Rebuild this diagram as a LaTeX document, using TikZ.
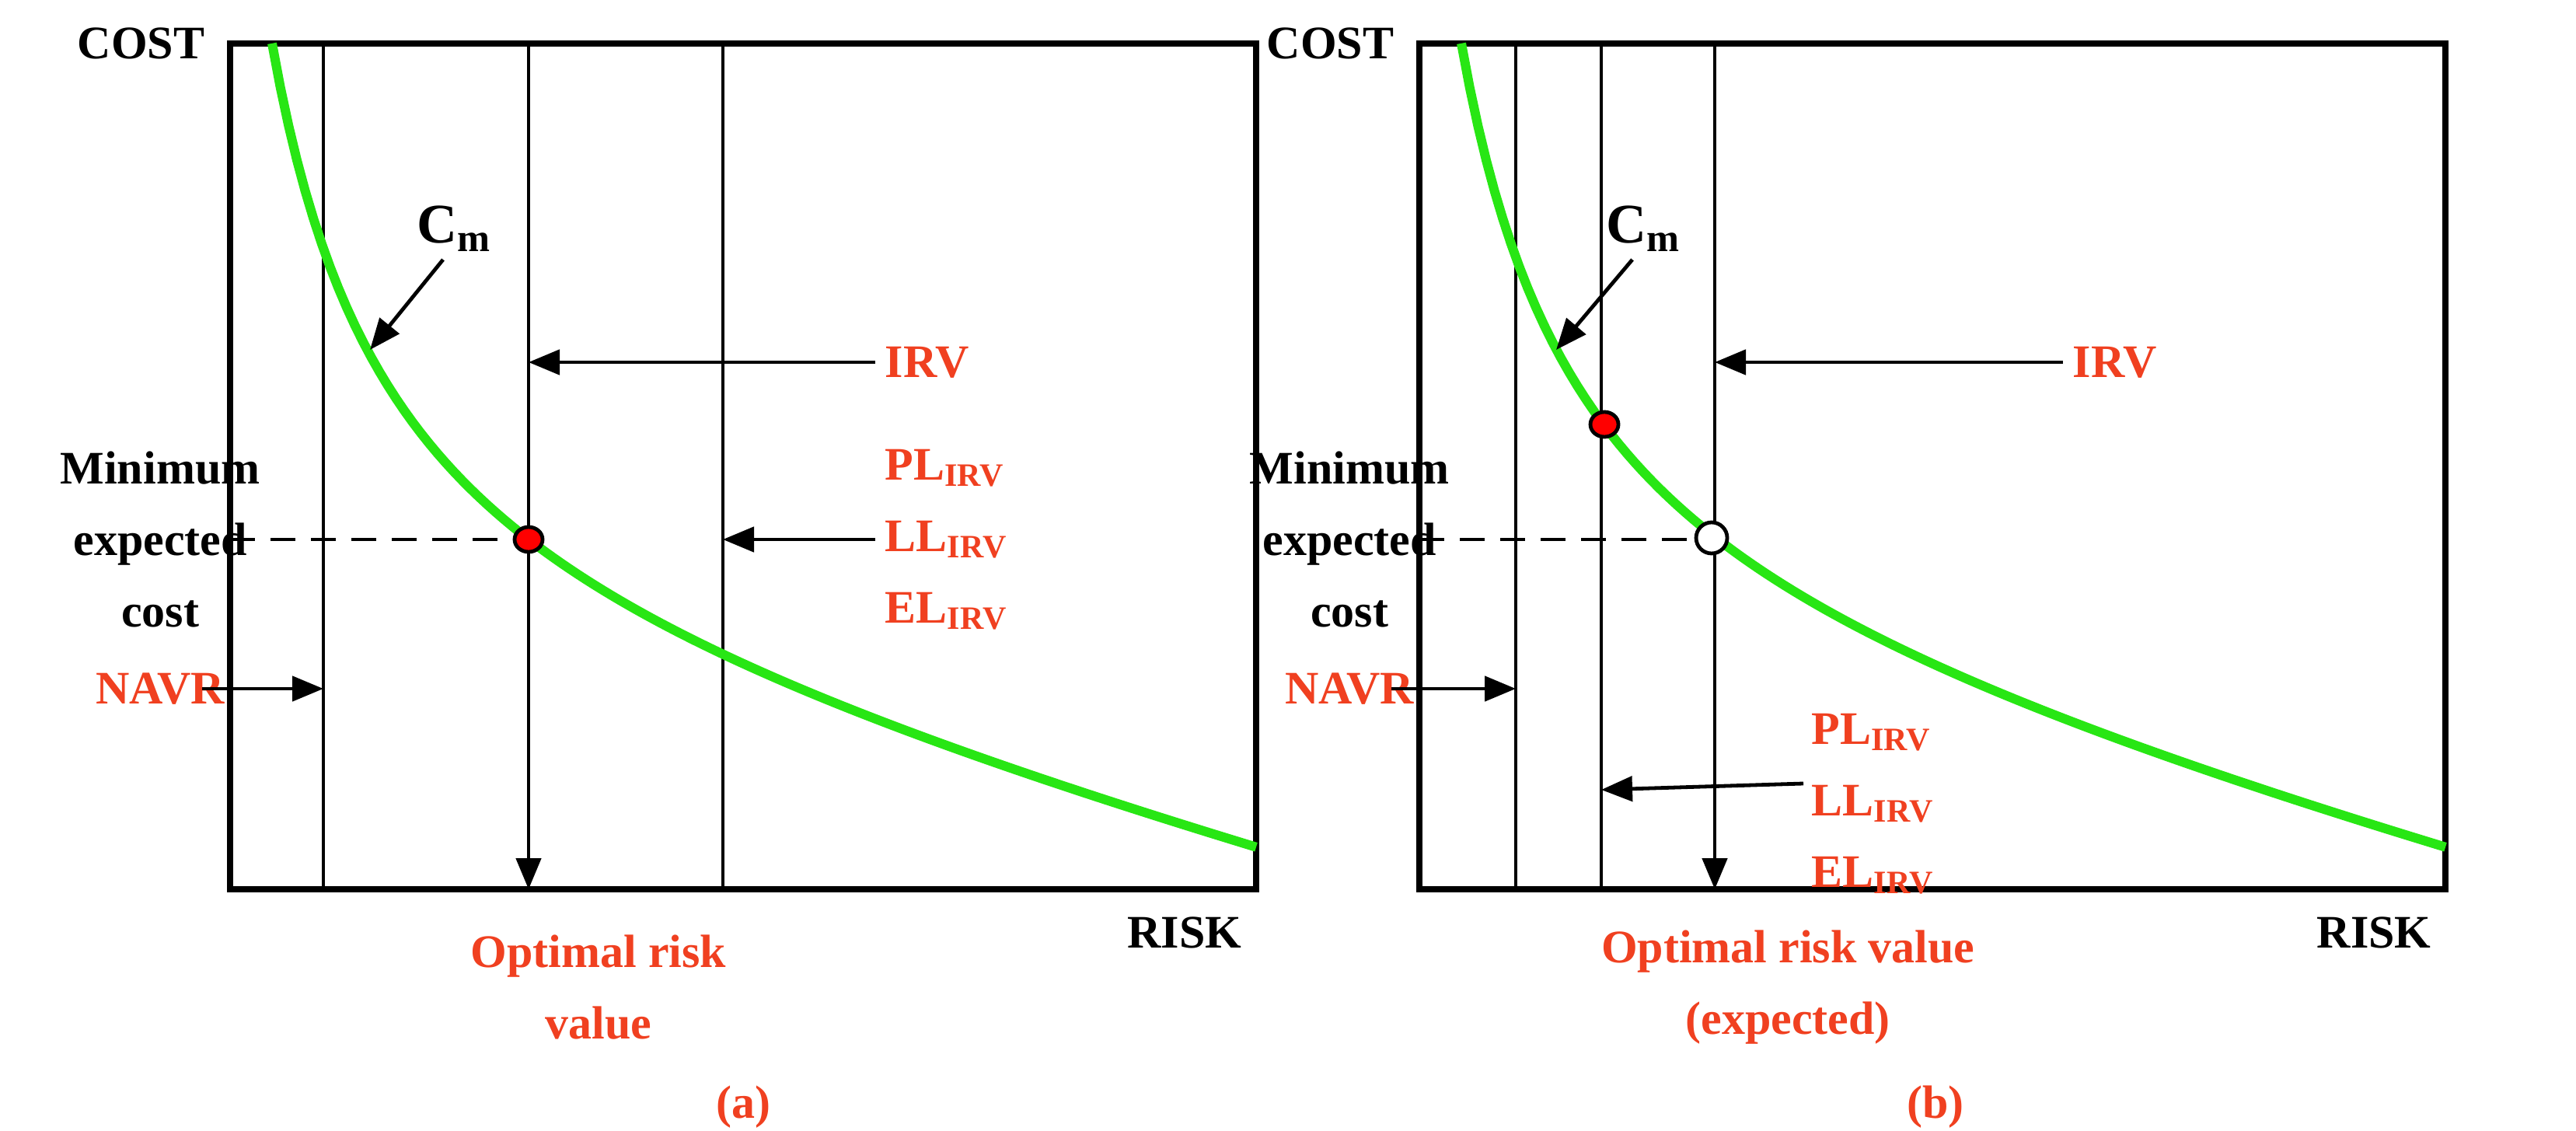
\documentclass[tikz,border=0pt]{standalone}
\usepackage{fontspec}
\setmainfont{Liberation Serif}
\usetikzlibrary{arrows.meta}
\definecolor{lbl}{RGB}{240,64,32}
\definecolor{crv}{RGB}{40,230,20}
\tikzset{
  lab/.style={font=\fontsize{15}{23}\selectfont\bfseries,inner sep=0pt,align=center},
  redlab/.style={lab,text=lbl},
  vline/.style={line width=1.2pt},
  pointer/.style={line width=1.2pt,-{Triangle[length=10pt,width=8pt]}},
}
\newcommand{\irvsub}[1]{#1\textsubscript{IRV}}
\begin{document}
\begin{tikzpicture}[x=0.5pt,y=-0.5pt]
\useasboundingbox (0,0) rectangle (1657,727);
% ---- panel (a)
\draw[line width=2pt] (148,28) rectangle (808,572);
\draw[vline] (208,28) -- (208,572);
\draw[vline] (465,28) -- (465,572);
\draw[crv,line width=3pt] plot[domain=175:808,samples=120] (\x,{390.6+0.2441*\x-304.05/((\x-100)/100)});
\draw[pointer] (340,28) -- (340,572);
\draw[dashed,dash pattern=on 8pt off 5pt,line width=1.2pt] (148,347) -- (340,347);
\draw[fill=red,line width=1.2pt] (340,347) ellipse (9 and 8);
\node[lab,anchor=east] (acost) at (132,28) {COST};
\node[lab] (arisk) at (762,600) {RISK};
\node[lab] (amin) at (103,347) {Minimum\\expected\\cost};
\node[lab,font=\fontsize{18}{22}\selectfont\bfseries] (acm) at (292,147) {C\textsubscript{m}};
\draw[pointer] (285,167) -- (238,225);
\node[redlab,anchor=west] (airv) at (569,233) {IRV};
\draw[pointer] (563,233) -- (340,233);
\node[redlab,anchor=west,align=left] (apl) at (569,347) {\irvsub{PL}\\\irvsub{LL}\\\irvsub{EL}};
\draw[pointer] (563,347) -- (465,347);
\node[redlab] (anavr) at (103,443) {NAVR};
\draw[pointer] (130,443) -- (208,443);
\node[redlab] (aoptl) at (385,635) {Optimal risk\\value};
\node[redlab] (acap) at (478,712) {(a)};
% ---- panel (b)
\draw[line width=2pt] (913,28) rectangle (1573,572);
\draw[vline] (975,28) -- (975,572);
\draw[vline] (1030,28) -- (1030,572);
\draw[crv,line width=3pt] plot[domain=940:1573,samples=120] (\x,{390.6+0.2441*(\x-765)-304.05/((\x-865)/100)});
\draw[pointer] (1103,28) -- (1103,572);
\draw[dashed,dash pattern=on 8pt off 5pt,line width=1.2pt] (913,347) -- (1092,347);
\draw[fill=red,line width=1.2pt] (1032,273) ellipse (9 and 8);
\draw[fill=white,line width=1.2pt] (1101,346) circle (10);
\node[lab,anchor=east] (bcost) at (897,28) {COST};
\node[lab] (brisk) at (1527,600) {RISK};
\node[lab] (bmin) at (868,347) {Minimum\\expected\\cost};
\node[lab,font=\fontsize{18}{22}\selectfont\bfseries] (bcm) at (1057,147) {C\textsubscript{m}};
\draw[pointer] (1050,167) -- (1001,225);
\node[redlab,anchor=west] (birv) at (1333,233) {IRV};
\draw[pointer] (1327,233) -- (1103,233);
\node[redlab,anchor=west,align=left] (bpl) at (1165,517) {\irvsub{PL}\\\irvsub{LL}\\\irvsub{EL}};
\draw[pointer] (1160,504) -- (1030,508);
\node[redlab] (bnavr) at (868,443) {NAVR};
\draw[pointer] (895,443) -- (975,443);
\node[redlab] (boptl) at (1150,635) {Optimal risk value\\(expected)};
\node[redlab] (bcap) at (1245,712) {(b)};
\end{tikzpicture}
\end{document}
